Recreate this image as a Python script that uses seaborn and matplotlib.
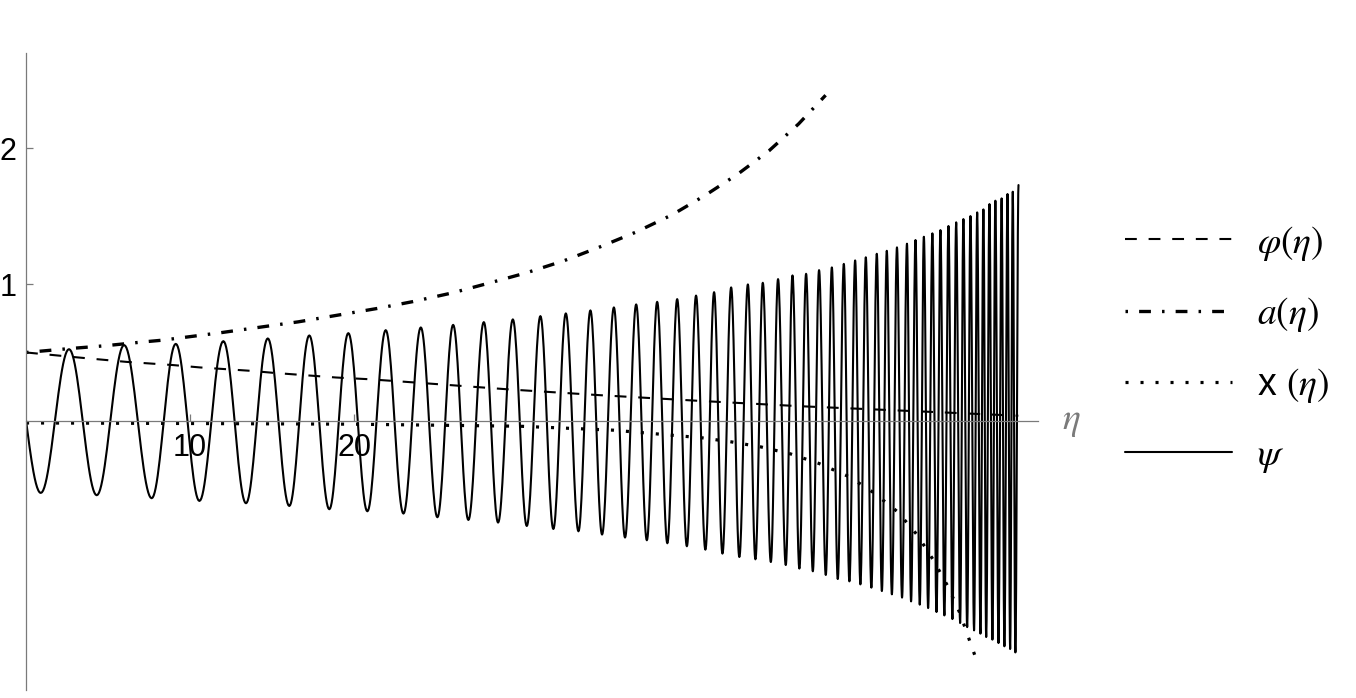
import numpy as np
import pandas as pd
import matplotlib
matplotlib.use("Agg")
import matplotlib.pyplot as plt
import seaborn as sns

# Extrema of psi (eta, value), alternating trough / peak
psi_ext_eta = [0.90, 2.62, 4.31, 5.98, 7.66, 9.13, 10.57, 12.03, 13.41, 14.74,
               16.05, 17.27, 18.49, 19.65, 20.81, 21.93, 23.01, 24.07, 25.08, 26.04,
               26.97, 27.91, 28.78, 29.68, 30.53, 31.36, 32.15, 32.91, 33.68, 34.41,
               35.12, 35.84, 36.52, 37.20, 37.85, 38.48, 39.10, 39.70, 40.29, 40.85,
               41.42, 41.95, 42.46, 42.99, 43.49, 44.01, 44.47, 44.92, 45.41, 45.85,
               46.32, 46.73, 47.15, 47.56, 47.97, 48.35, 48.76, 49.13, 49.49, 49.86,
               50.20, 50.55, 50.87, 51.20, 51.54, 51.87, 52.18, 52.48, 52.79, 53.10,
               53.41, 53.71, 53.96, 54.23, 54.49, 54.74, 55.00, 55.26, 55.51, 55.75,
               55.99, 56.24, 56.48, 56.71, 56.95, 57.15, 57.38, 57.58, 57.80, 57.99,
               58.19, 58.37, 58.54, 58.74, 58.92, 59.10, 59.29, 59.48, 59.65, 59.84,
               60.00, 60.16, 60.32, 60.51]
psi_ext_val = [-0.532, 0.524, -0.549, 0.554, -0.571, 0.563, -0.591, 0.583, -0.608, 0.603,
               -0.628, 0.625, -0.652, 0.642, -0.667, 0.664, -0.684, 0.684, -0.711, 0.703,
               -0.731, 0.723, -0.750, 0.743, -0.775, 0.767, -0.797, 0.787, -0.814, 0.809,
               -0.838, 0.831, -0.860, 0.853, -0.880, 0.872, -0.902, 0.892, -0.924, 0.918,
               -0.949, 0.943, -0.978, 0.978, -1.003, 1.000, -1.020, 1.012, -1.040, 1.039,
               -1.062, 1.066, -1.088, 1.078, -1.108, 1.105, -1.135, 1.125, -1.165, 1.151,
               -1.182, 1.176, -1.204, 1.199, -1.228, 1.225, -1.253, 1.247, -1.277, 1.272,
               -1.301, 1.299, -1.329, 1.326, -1.353, 1.350, -1.378, 1.375, -1.407, 1.399,
               -1.432, 1.429, -1.459, 1.456, -1.488, 1.480, -1.518, 1.502, -1.542, 1.529,
               -1.566, 1.551, -1.591, 1.590, -1.610, 1.615, -1.635, 1.632, -1.659, 1.664,
               -1.679, 1.681, -1.704, 1.730]

# a(eta)
a_eta = [0.0, 2.7, 4.8, 7.2, 8.3, 11.8, 16.6, 21.4, 23.6, 26.0, 28.3, 30.5,
         32.8, 35.0, 37.2, 39.4, 41.4, 43.4, 45.3, 47.1, 48.75]
a_val = [0.500, 0.529, 0.549, 0.578, 0.590, 0.644, 0.725, 0.823, 0.874, 0.938, 1.012, 1.085,
         1.174, 1.276, 1.385, 1.512, 1.654, 1.811, 1.982, 2.179, 2.39]

# phi(eta)
phi_eta = [0.0, 3.2, 6.1, 9.0, 10.6, 13.7, 15.1, 18.9, 20.8, 22.6, 29.5, 35.0,
           41.1, 47.2, 54.3, 60.5]
phi_val = [0.500, 0.463, 0.431, 0.407, 0.390, 0.365, 0.350, 0.316, 0.304, 0.289, 0.228, 0.186,
           0.144, 0.105, 0.068, 0.035]

# x(eta)
x_eta = [0.0, 10.0, 20.0, 22.0, 30.1, 35.8, 41.2, 43.0, 44.8, 46.6, 48.35, 50.2,
         51.7, 53.15, 54.35, 55.3, 56.2, 56.95, 57.56, 57.87]
x_val = [-0.018, -0.022, -0.027, -0.030, -0.042, -0.071, -0.127, -0.157, -0.194, -0.245,
         -0.316, -0.414, -0.532, -0.672, -0.843, -1.022, -1.218, -1.419, -1.628, -1.733]

x_ticks = [10, 20]
y_ticks = [1, 2]


def wave_through(ext_eta, ext_val, per_seg=24):
    # join the read extrema with half-cosine arcs, starting at the origin
    s = np.linspace(0, 1, per_seg, endpoint=False)
    xs = [s * ext_eta[0]]
    ys = [ext_val[0] * np.sin(np.pi / 2 * s)]
    for i in range(len(ext_eta) - 1):
        e0, e1 = ext_eta[i], ext_eta[i + 1]
        v0, v1 = ext_val[i], ext_val[i + 1]
        xs.append(e0 + s * (e1 - e0))
        ys.append(v0 + (v1 - v0) * (1 - np.cos(np.pi * s)) / 2)
    xs.append([ext_eta[-1]])
    ys.append([ext_val[-1]])
    return np.concatenate(xs), np.concatenate(ys)


psi_x, psi_y = wave_through(psi_ext_eta, psi_ext_val)
df_psi = pd.DataFrame({"eta": psi_x, "val": psi_y})
df_a = pd.DataFrame({"eta": a_eta, "val": a_val})
df_phi = pd.DataFrame({"eta": phi_eta, "val": phi_val})
df_x = pd.DataFrame({"eta": x_eta, "val": x_val})

sns.set_theme(style="white")
plt.rcParams["font.family"] = ["Liberation Sans", "DejaVu Sans"]
plt.rcParams["mathtext.fontset"] = "stix"
plt.rcParams["lines.scale_dashes"] = False

fig = plt.figure(figsize=(13.56, 6.98), dpi=100)
ax = fig.add_axes([0.0192, 0.0115, 0.7463, 0.9125])

axis_grey = "#7a7a7a"

sns.lineplot(data=df_phi, x="eta", y="val", ax=ax, color="black", lw=1.5,
             linestyle=(0, (8.5, 8.5)), sort=False, estimator=None, label=r"$\varphi(\eta)$")
sns.lineplot(data=df_a, x="eta", y="val", ax=ax, color="black", lw=2.4,
             linestyle=(16.5, (8.5, 8.0, 1.8, 8.0)), sort=False, estimator=None,
             label=r"$a(\eta)$")
sns.lineplot(data=df_x, x="eta", y="val", ax=ax, color="black", lw=2.3,
             linestyle=(0, (2.2, 8.6)), sort=False, estimator=None,
             label="x " + r"$(\eta)$")
sns.lineplot(data=df_psi, x="eta", y="val", ax=ax, color="black", lw=1.5,
             sort=False, estimator=None, label=r"$\psi$")

ax.set_xlim(0, 61.7)
ax.set_ylim(-1.98, 2.70)
ax.set_xlabel("")
ax.set_ylabel("")

for side in ["top", "right"]:
    ax.spines[side].set_visible(False)
ax.spines["left"].set_position(("data", 0))
ax.spines["bottom"].set_position(("data", 0))
for side in ["left", "bottom"]:
    ax.spines[side].set_color(axis_grey)
    ax.spines[side].set_linewidth(0.9)

ax.set_xticks(x_ticks)
ax.set_yticks(y_ticks)
ax.set_xticklabels([str(t) for t in x_ticks])
ax.set_yticklabels([str(t) for t in y_ticks])
ax.tick_params(axis="x", direction="in", length=5, width=0.9, color=axis_grey,
               labelsize=22, labelcolor="black", pad=9, bottom=True)
ax.tick_params(axis="y", direction="in", length=5, width=0.9, color=axis_grey,
               labelsize=22, labelcolor="black", pad=7, left=True)

ax.text(63.7, 0, r"$\eta$", color=axis_grey, fontsize=27, ha="center", va="center",
        clip_on=False)

handles, labels = ax.get_legend_handles_labels()
leg = ax.legend(handles, labels, loc="center left", bbox_to_anchor=(0.830, 0.4993),
                bbox_transform=fig.transFigure, frameon=False, fontsize=27,
                handlelength=2.85, handletextpad=0.65, labelspacing=0.86,
                borderpad=0, borderaxespad=0)
for t in leg.get_texts():
    t.set_color("black")

fig.savefig("out.png", dpi=100)
